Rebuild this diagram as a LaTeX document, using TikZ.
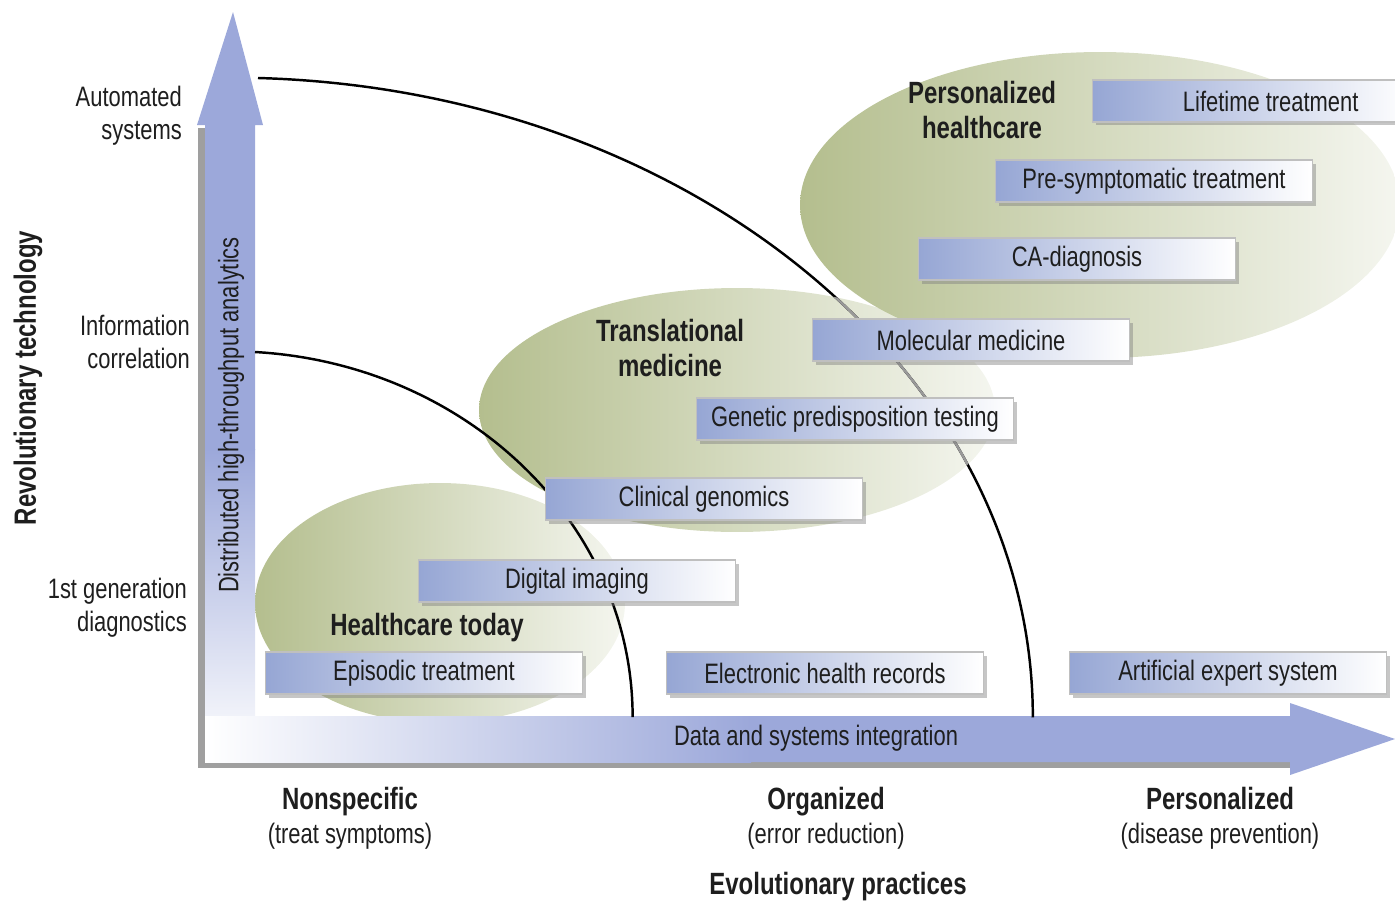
\documentclass[tikz,border=0pt]{standalone}
\usepackage{fontspec}
\setmainfont{Liberation Sans}[FakeStretch=0.78]
\usepackage{tikz}
\usetikzlibrary{shadows, positioning}
\definecolor{boxblue}{RGB}{150,166,212}
\definecolor{axisblue}{RGB}{156,168,218}
\definecolor{ellgreen}{RGB}{180,190,142}
\definecolor{inkgray}{RGB}{30,30,30}
\def\boxfont{\fontsize{16}{18}\selectfont}
\def\labfont{\fontsize{16}{18.7}\selectfont}
\def\headfont{\fontsize{17.5}{20.4}\selectfont\bfseries}
\def\outerarc{(258,78) arc[start angle=88, end angle=0, x radius=16.06cm, y radius=12.8cm]}

\begin{document}
\begin{tikzpicture}[x=0.02cm, y=-0.02cm, node distance=0.68cm,
    stage/.style={rectangle, draw=gray!50, line width=0.6pt, left color=boxblue, right color=white,
      minimum width=6.34cm, minimum height=0.84cm, inner sep=0pt, font=\boxfont, text=inkgray,
      drop shadow={opacity=0.45, shadow xshift=0.07cm, shadow yshift=-0.07cm}},
    head/.style={font=\headfont, text=inkgray, align=center},
    foot/.style={head, text height=2.1ex, text depth=0.5ex},
    ylab/.style={font=\labfont, text=inkgray, align=right, anchor=east},
    xlab/.style={font=\labfont, text=inkgray},
    arcline/.style={line width=1.4pt, black},
    glow/.style={left color=ellgreen, right color=ellgreen!14!white}]
  \useasboundingbox (0,0) rectangle (1395,903);
  \clip (0,0) rectangle (1395,903);
  % stage ellipses
  \shade[glow] (440,603) ellipse [x radius=3.7cm, y radius=2.4cm];
  \shade[glow] (737,410) ellipse [x radius=5.16cm, y radius=2.44cm];
  \shade[glow] (1100,205) ellipse [x radius=6cm, y radius=3.06cm];

  % axes
  \fill[gray!75] (198,128) rectangle (207,768);
  \fill[gray!75] (198,761) rectangle (1292,768);
  \fill[axisblue] (205,450) -- (205,125) -- (197,125) -- (233,12) -- (263,125) -- (255,125) -- (255,450) -- cycle;
  \shade[top color=axisblue, bottom color=white] (205,449) rectangle (255,762);
  \shade[left color=white, right color=axisblue] (205,716) rectangle (751,762);
  \fill[axisblue] (750,762) -- (750,716) -- (1290,716) -- (1290,703) -- (1395,739) -- (1290,775) -- (1290,762) -- cycle;

  % boundaries
  \draw[arcline] \outerarc;
  \begin{scope}
    \clip (1100,205) ellipse [x radius=6cm, y radius=3.06cm] (737,410) ellipse [x radius=5.16cm, y radius=2.44cm];
    \draw[arcline, black!40] \outerarc;
  \end{scope}
  \draw[arcline] (255,352) arc[start angle=86.4, end angle=0, x radius=8.06cm, y radius=7.32cm];

  % stages
  \node[stage] (epi) at (424,673) {Episodic treatment};
  \node[stage] (dig) at (577,581) {Digital imaging};
  \node[stage] (clin) at (704,499) {Clinical genomics};
  \node[stage] (gen) at (855,419) {Genetic predisposition testing};
  \node[stage] (mol) at (971,340) {Molecular medicine};
  \node[stage] (ca) at (1077,259) {CA-diagnosis};
  \node[stage] (presym) at (1154,181) {Pre-symptomatic treatment};
  \node[stage] (life) at (1251,101) {\hspace{1.4em}Lifetime treatment};
  \node[stage] (ehr) at (825,673) {Electronic health records};
  \node[stage] (aes) at (1228,673) {Artificial expert system};

  \node[head] (today) at (427,628) {Healthcare today};
  \node[head] (trans) at (670,348) {Translational\\medicine};
  \node[head] (pers) at (982,110) {Personalized\\healthcare};

  % technology axis
  \node[ylab] (auto) at (188,116) {Automated\\systems};
  \node[ylab] (info) at (196,342) {Information\\correlation};
  \node[ylab] (first) at (193,608) {1st generation\\diagnostics};
  \node[head, rotate=90] (revo) at (28,378) {Revolutionary technology};
  \node[xlab, rotate=90] (dist) at (231,415) {Distributed high-throughput analytics};
  \node[xlab] (data) at (816,738) {Data and systems integration};

  % practices axis
  \node[foot] (nonspec) at (350,802) {Nonspecific};
  \node[xlab, below of=nonspec] (treat) {(treat symptoms)};
  \node[foot] (organ) at (826,802) {Organized};
  \node[xlab, below of=organ] (error) {(error reduction)};
  \node[foot] (perso) at (1220,802) {Personalized};
  \node[xlab, below of=perso] (prev) {(disease prevention)};
  \node[head] (evo) at (838,887) {Evolutionary practices};
\end{tikzpicture}
\end{document}
